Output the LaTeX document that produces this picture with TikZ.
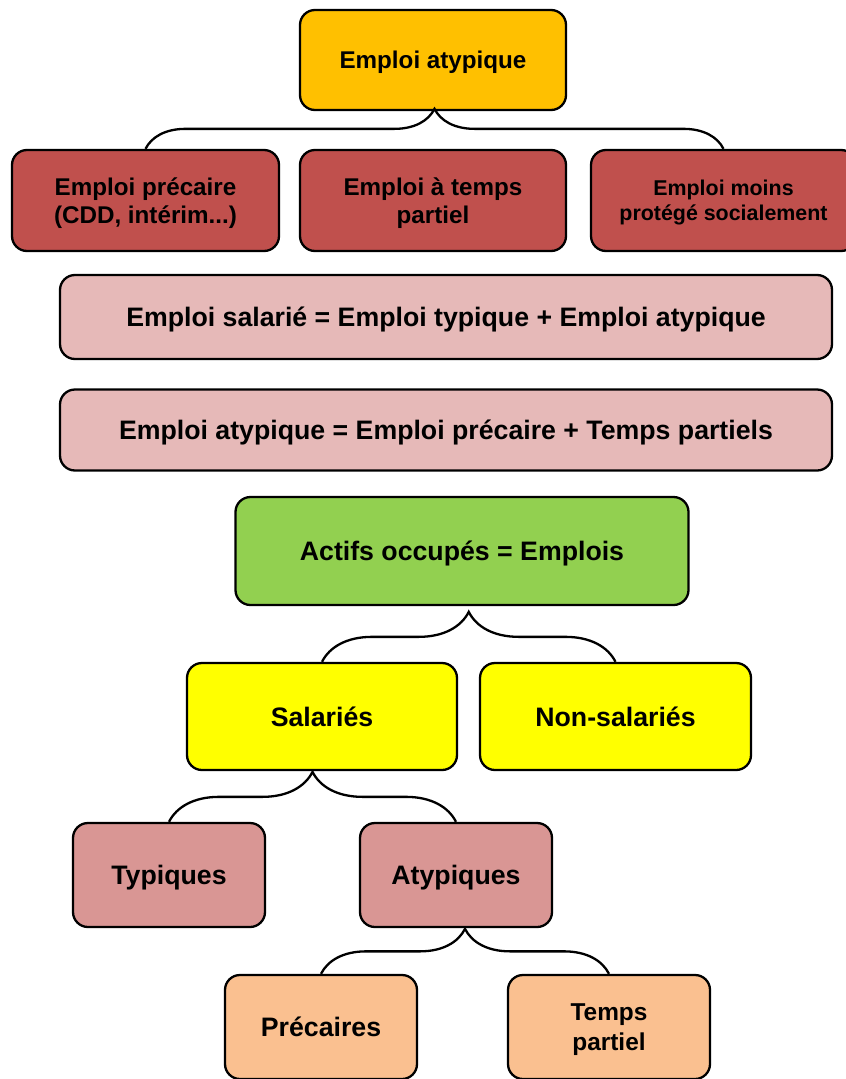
\documentclass[tikz,border=0pt]{standalone}
\usepackage{fontspec}
\setmainfont{Liberation Sans}
\usetikzlibrary{decorations.pathreplacing}
\definecolor{orangetop}{HTML}{FFC000}
\definecolor{rouge}{HTML}{C0504D}
\definecolor{rose}{HTML}{E6B9B8}
\definecolor{vert}{HTML}{92D050}
\definecolor{jaune}{HTML}{FFFF00}
\definecolor{vieuxrose}{HTML}{D99694}
\definecolor{peche}{HTML}{FAC090}
\tikzstyle{bloc} = [
  draw,
  rectangle,
  line width=2.3pt,
  rounded corners=15pt,
  inner sep=0pt,
  text depth=0pt,
  align=center,
  font=\bfseries\fontsize{24.2}{28.5}\selectfont,
]
\tikzstyle{egalite} = [
  bloc,
  fill=rose,
  minimum width=772pt,
  font=\bfseries\fontsize{26.7}{30}\selectfont,
]
\tikzstyle{niveau} = [
  bloc,
  font=\bfseries\fontsize{26.7}{30}\selectfont,
]
\tikzstyle{accolade} = [
  line width=2.3pt,
  decorate,
]

\begin{document}
\begin{tikzpicture}[
    x=1pt,
    y=-1pt,
  ]
  \useasboundingbox (0,0) rectangle (846,1079);
  % emploi atypique
  \node[bloc, fill=orangetop, minimum width=266pt, minimum height=100pt]
  (atyp) at (433,60) {Emploi atypique};
  \node[bloc, fill=rouge, minimum width=267pt, minimum height=101pt]
  (precaire) at (145.5,200.5) {Emploi précaire\\(CDD, intérim...)};
  \node[bloc, fill=rouge, minimum width=266pt, minimum height=101pt]
  (partiel) at (433,200.5) {Emploi à temps\\partiel};
  \node[bloc, fill=rouge, minimum width=265pt, minimum height=101pt,
    font=\bfseries\fontsize{21.4}{25}\selectfont]
  (moins) at (723.5,200.5) {Emploi moins\\protégé socialement};
  \draw[accolade, decoration={brace, amplitude=40pt}]
  (precaire.north) -- (moins.north);
  % egalites
  \node[egalite, minimum height=84pt]
  (salarieeq) at (446,317) {Emploi salarié = Emploi typique + Emploi atypique};
  \node[egalite, minimum height=81pt]
  (atypeq) at (446,430) {Emploi atypique = Emploi précaire + Temps partiels};
  % actifs occupes
  \node[niveau, fill=vert, minimum width=453pt, minimum height=108pt]
  (actifs) at (462,551) {Actifs occupés = Emplois};
  \node[niveau, fill=jaune, minimum width=270pt, minimum height=107pt]
  (salaries) at (322,716.5) {Salariés};
  \node[niveau, fill=jaune, minimum width=271pt, minimum height=107pt]
  (nonsal) at (615.5,716.5) {Non-salariés};
  \node[niveau, fill=vieuxrose, minimum width=192pt, minimum height=104pt]
  (typiques) at (169,875) {Typiques};
  \node[niveau, fill=vieuxrose, minimum width=192pt, minimum height=104pt]
  (atypiques) at (456,875) {Atypiques};
  \node[niveau, fill=peche, minimum width=192pt, minimum height=104pt]
  (precaires) at (321,1027) {Précaires};
  \node[niveau, fill=peche, minimum width=202pt, minimum height=104pt,
    font=\bfseries\fontsize{24.4}{30}\selectfont]
  (temps) at (609,1027) {Temps\\partiel};
  \draw[accolade, decoration={brace, amplitude=50pt}]
  (salaries.north) -- (nonsal.north);
  \draw[accolade, decoration={brace, amplitude=50pt}]
  (typiques.north) -- (atypiques.north);
  \draw[accolade, decoration={brace, amplitude=45pt}]
  (precaires.north) -- (temps.north);
\end{tikzpicture}
\end{document}
